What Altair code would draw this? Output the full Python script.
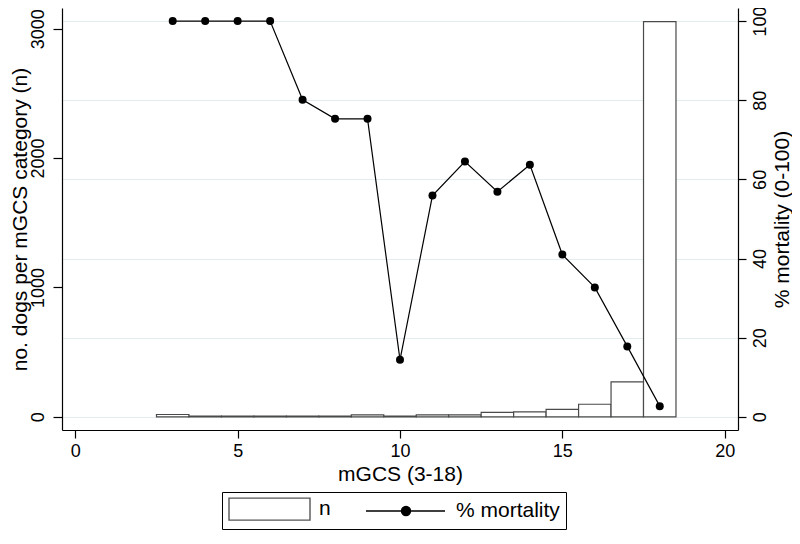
import altair as alt
import pandas as pd

# ---- data ----
mgcs = list(range(3, 19))
n_dogs = [18, 5, 5, 5, 5, 5, 15, 6, 15, 15, 35, 38, 58, 97, 270, 3055]
mortality = [100, 100, 100, 100, 80.1, 75.3, 75.3, 14.4, 55.9, 64.5, 56.9, 63.7, 41.0, 32.7, 17.8, 2.7]
series = ["n", "% mortality"]
x_ticks = [0, 5, 10, 15, 20]
left_ticks = [0, 1000, 2000, 3000]
right_ticks = [0, 20, 40, 60, 80, 100]

df = pd.DataFrame({"mgcs": mgcs, "n": n_dogs, "mortality": mortality})
legend_df = pd.DataFrame({"series": series})

FONT = "Liberation Sans"

x_scale = alt.Scale(domain=[-0.41, 20.41], nice=False, zero=False)


def x_axis():
    return alt.Axis(values=x_ticks, title="mGCS (3-18)", tickSize=8, labelPadding=4,
                    titlePadding=3, grid=False, labelFlush=False, format="d")


left_axis = alt.Axis(orient="left", values=left_ticks, title="no. dogs per mGCS category (n)",
                     format="d", grid=False, labelAngle=270, labelAlign="center",
                     labelBaseline="bottom", labelPadding=6, tickSize=9, titlePadding=-1)

right_axis = alt.Axis(orient="right", values=right_ticks, title="% mortality (0-100)",
                      format="d", grid=True, gridColor="#e3edef", gridWidth=1,
                      labelAngle=270, labelAlign="center", labelBaseline="top",
                      labelPadding=5, tickSize=8, titleAngle=270, titleBaseline="top",
                      titlePadding=2)

base = alt.Chart(df)

bars = base.transform_calculate(
    x0="datum.mgcs - 0.5", x1="datum.mgcs + 0.5"
).mark_bar(fill="white", stroke="#4a4a4a", strokeWidth=1.2, opacity=1).encode(
    x=alt.X("x0:Q", scale=x_scale, axis=x_axis()),
    x2="x1:Q",
    y=alt.Y("n:Q", scale=alt.Scale(domain=[-102, 3160], nice=False, zero=False), axis=left_axis),
    y2=alt.datum(0),
)

y_right = alt.Y("mortality:Q", scale=alt.Scale(domain=[-3.33, 103.3], nice=False, zero=False),
                axis=right_axis)

line = base.mark_line(color="black", strokeWidth=1.2).encode(
    x=alt.X("mgcs:Q", scale=x_scale, axis=x_axis()),
    y=y_right,
)

points = base.mark_point(filled=True, color="black", size=64, opacity=1).encode(
    x=alt.X("mgcs:Q", scale=x_scale, axis=x_axis()),
    y=y_right,
)

# legend symbols: symbolSize 400 -> 10 px per path unit
rect_path = "M-1,-1.1H7.1V1.1H-1Z"
line_dot_path = "M-1,0H6.9M2.55,0A0.45,0.45 0 1,1 3.45,0A0.45,0.45 0 1,1 2.55,0Z"


def leg():
    return alt.Legend(title=None, orient="none", legendX=160, legendY=484,
                      direction="horizontal", columns=2, padding=6, strokeColor="black",
                      symbolSize=400, symbolStrokeWidth=1.4, labelOffset=69,
                      columnPadding=32, labelFontSize=21, labelFont=FONT,
                      labelColor="black", symbolOpacity=1)


legend_layer = alt.Chart(legend_df).transform_filter("false").mark_point(
    filled=True, opacity=1, strokeWidth=1.4
).encode(
    shape=alt.Shape("series:N", scale=alt.Scale(domain=series, range=[rect_path, line_dot_path]),
                    legend=leg()),
    fill=alt.Fill("series:N", scale=alt.Scale(domain=series, range=["white", "black"]),
                  legend=leg()),
    stroke=alt.Stroke("series:N", scale=alt.Scale(domain=series, range=["#555555", "black"]),
                      legend=leg()),
)

right_layer = alt.layer(line, points, legend_layer)

chart = alt.layer(bars, right_layer).resolve_scale(
    y="independent"
).properties(
    width=676, height=422,
    autosize=alt.AutoSizeParams(type="none"),
    padding={"left": 54, "top": 0, "right": 54, "bottom": 102},
    background="white",
).configure_view(
    strokeWidth=0
).configure_axis(
    domainColor="black", tickColor="black", labelColor="black", titleColor="black",
    labelFont=FONT, titleFont=FONT, labelFontSize=18, titleFontSize=21,
    titleFontWeight="normal", domainWidth=1.2, tickWidth=1.2,
)

chart.save("out.html", embed_options={"renderer": "svg", "actions": False})
